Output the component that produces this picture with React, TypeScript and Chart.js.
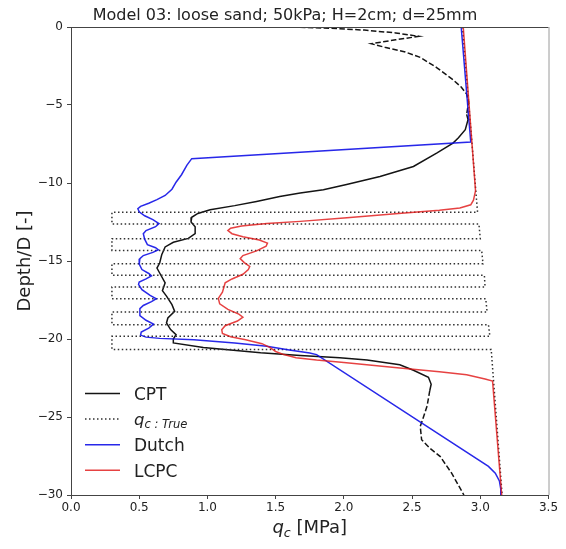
import React, { useEffect, useRef } from "react";
import { Chart, registerables } from "chart.js";

Chart.register(...registerables);

type P = [number, number];

const TITLE = "Model 03: loose sand; 50kPa; H=2cm; d=25mm";
const Y_LABEL = "Depth/D [-]";
const X_MIN = 0;
const X_MAX = 3.5;
const X_STEP = 0.5;
const Y_MIN = -30;
const Y_MAX = 0;
const Y_STEP = 5;
const legendNames = ["CPT", "q_c:True", "Dutch", "LCPC"];

// CPT profile [qc MPa, depth/D]; dashed (top), solid (middle), dashed (bottom)
const cptTop: P[] = [
  [1.62, 0], [1.9, -0.08], [2.15, -0.2], [2.38, -0.38], [2.55, -0.6], [2.38, -0.82],
  [2.2, -1.07], [2.3, -1.3], [2.45, -1.6], [2.56, -1.95], [2.68, -2.6], [2.8, -3.38],
  [2.86, -3.85], [2.9, -4.3], [2.915, -4.8], [2.9, -5.6],
];
const cptMid: P[] = [
  [2.9, -5.6], [2.91, -5.94], [2.89, -6.58], [2.84, -7.1], [2.8, -7.44], [2.68, -8.08],
  [2.51, -8.94], [2.265, -9.58], [2.02, -10.1], [1.85, -10.43], [1.68, -10.64],
  [1.53, -10.86], [1.36, -11.18], [1.2, -11.45], [1.02, -11.71], [0.93, -11.95],
  [0.885, -12.2], [0.88, -12.5], [0.91, -12.8], [0.91, -13.25], [0.86, -13.55],
  [0.75, -13.8], [0.69, -14.1], [0.665, -14.6], [0.65, -15.13], [0.63, -15.45],
  [0.65, -15.77], [0.69, -16.4], [0.67, -16.9], [0.7, -17.25], [0.74, -17.8],
  [0.76, -18.23], [0.71, -18.65], [0.7, -18.97], [0.73, -19.4], [0.77, -19.72],
  [0.75, -20.0], [0.75, -20.25], [0.97, -20.55], [1.39, -20.88], [1.68, -21.05],
  [1.97, -21.2], [2.17, -21.35], [2.41, -21.65], [2.51, -22.0], [2.62, -22.45],
  [2.64, -22.9], [2.63, -23.3],
];
const cptBottom: P[] = [
  [2.63, -23.3], [2.61, -24.3], [2.58, -25.1], [2.56, -25.6], [2.57, -26.46],
  [2.63, -27.0], [2.705, -27.52], [2.79, -28.6], [2.88, -30],
];

// "True" qc profile with the loose layers
const qcTrue: P[] = [
  [2.87, 0], [2.98, -11.88], [0.3, -11.88], [0.3, -12.63], [2.99, -12.63],
  [3.0, -13.57], [0.3, -13.57], [0.3, -14.32], [3.01, -14.32],
  [3.02, -15.17], [0.3, -15.17], [0.3, -15.92], [3.03, -15.92],
  [3.035, -16.67], [0.3, -16.67], [0.3, -17.42], [3.04, -17.42],
  [3.05, -18.27], [0.3, -18.27], [0.3, -19.08], [3.06, -19.08],
  [3.07, -19.83], [0.3, -19.83], [0.3, -20.67], [3.08, -20.67], [3.16, -30],
];

// Dutch method
const dutch: P[] = [
  [2.86, 0], [2.93, -7.37], [0.885, -8.44], [0.85, -8.85], [0.81, -9.47], [0.77, -9.95],
  [0.74, -10.4], [0.69, -10.8], [0.63, -11.07], [0.57, -11.3], [0.51, -11.5],
  [0.49, -11.65], [0.5, -11.85], [0.54, -12.1], [0.6, -12.35], [0.645, -12.6],
  [0.62, -12.8], [0.55, -13.05], [0.53, -13.25], [0.54, -13.6], [0.56, -13.95],
  [0.62, -14.15], [0.64, -14.28], [0.6, -14.45], [0.53, -14.65], [0.505, -14.85],
  [0.5, -15.2], [0.52, -15.55], [0.57, -15.8], [0.59, -15.95], [0.55, -16.15],
  [0.5, -16.35], [0.495, -16.5], [0.52, -16.84], [0.58, -17.2], [0.625, -17.42],
  [0.59, -17.6], [0.53, -17.85], [0.505, -18.05], [0.505, -18.5], [0.55, -18.8],
  [0.605, -19.05], [0.57, -19.3], [0.515, -19.55], [0.51, -19.75], [0.55, -19.88],
  [0.65, -19.96], [0.9, -20.05], [1.2, -20.25], [1.435, -20.47], [1.6, -20.7],
  [1.75, -20.9], [1.8, -21.0], [3.06, -28.17], [3.11, -28.6], [3.14, -29.1],
  [3.15, -29.6], [3.15, -30],
];

// LCPC method
const lcpc: P[] = [
  [2.875, 0], [2.965, -10.5], [2.95, -11.1], [2.93, -11.4], [2.85, -11.6], [2.7, -11.75],
  [2.4, -11.95], [2.0, -12.25], [1.68, -12.46], [1.435, -12.6], [1.25, -12.75],
  [1.17, -12.9], [1.15, -13.05], [1.18, -13.25], [1.26, -13.45], [1.38, -13.65],
  [1.44, -13.85], [1.43, -14.05], [1.36, -14.35], [1.26, -14.65], [1.24, -14.85],
  [1.27, -15.1], [1.31, -15.35], [1.3, -15.55], [1.26, -15.85], [1.18, -16.15],
  [1.13, -16.4], [1.12, -16.7], [1.11, -17.0], [1.08, -17.4], [1.09, -17.75],
  [1.15, -18.1], [1.23, -18.4], [1.26, -18.6], [1.22, -18.85], [1.13, -19.15],
  [1.105, -19.4], [1.11, -19.65], [1.17, -19.85], [1.28, -20.05], [1.4, -20.3],
  [1.46, -20.55], [1.5, -20.8], [1.56, -21.0], [1.65, -21.2], [1.8, -21.35],
  [2.0, -21.5], [2.41, -21.86], [2.7, -22.1], [2.9, -22.29], [3.035, -22.56],
  [3.09, -22.7], [3.157, -30],
];

const FONT = "'DejaVu Sans', sans-serif";
const BLACK = "#141414";
const DOT = "#303030";
const BLUE = "rgba(10,10,230,0.88)";
const RED = "rgba(225,25,25,0.82)";
const AXIS = "#444444";
const TEXT = "#222222";

const toXY = (a: P[]) => a.map(([x, y]) => ({ x, y }));

const drawQc = (
  ctx: CanvasRenderingContext2D,
  x: number,
  y: number,
  size: number,
  sub: string,
  rest: string,
  align: "left" | "center"
) => {
  const subSize = size * 0.7;
  ctx.font = `italic ${size}px ${FONT}`;
  const qw = ctx.measureText("q").width;
  ctx.font = `italic ${subSize}px ${FONT}`;
  const sw = ctx.measureText(sub).width;
  ctx.font = `${size}px ${FONT}`;
  const rw = rest ? ctx.measureText(rest).width : 0;
  const total = qw + sw + rw;
  let cx = align === "center" ? x - total / 2 : x;
  ctx.textAlign = "left";
  ctx.textBaseline = "alphabetic";
  ctx.font = `italic ${size}px ${FONT}`;
  ctx.fillText("q", cx, y);
  cx += qw;
  ctx.font = `italic ${subSize}px ${FONT}`;
  ctx.fillText(sub, cx, y + size * 0.2);
  cx += sw;
  if (rest) {
    ctx.font = `${size}px ${FONT}`;
    ctx.fillText(rest, cx, y);
  }
};

const overlay = {
  id: "overlay",
  afterDraw(chart: any) {
    const { ctx, chartArea: a } = chart;
    ctx.save();
    // top & right spines
    ctx.lineWidth = 1;
    ctx.strokeStyle = AXIS;
    ctx.beginPath();
    ctx.moveTo(a.left, a.top + 0.5);
    ctx.lineTo(a.right, a.top + 0.5);
    ctx.stroke();
    ctx.strokeStyle = "#9a9a9a";
    ctx.beginPath();
    ctx.moveTo(a.right + 0.5, a.top);
    ctx.lineTo(a.right + 0.5, a.bottom);
    ctx.stroke();

    // title
    ctx.fillStyle = TEXT;
    ctx.font = `16px ${FONT}`;
    ctx.textAlign = "center";
    ctx.textBaseline = "alphabetic";
    ctx.fillText(TITLE, 285, 20);

    // y label
    ctx.save();
    ctx.translate(30, (a.top + a.bottom) / 2);
    ctx.rotate(-Math.PI / 2);
    ctx.font = `18px ${FONT}`;
    ctx.textAlign = "center";
    ctx.fillText(Y_LABEL, 0, 0);
    ctx.restore();

    // x label
    drawQc(ctx, (a.left + a.right) / 2, 533, 18, "c", " [MPa]", "center");

    // legend
    const styles = [
      { color: BLACK, dash: [] as number[] },
      { color: DOT, dash: [1.5, 2.5] },
      { color: BLUE, dash: [] as number[] },
      { color: RED, dash: [] as number[] },
    ];
    legendNames.forEach((name, i) => {
      const yy = 393.5 + i * 25.6;
      ctx.strokeStyle = styles[i].color;
      ctx.setLineDash(styles[i].dash);
      ctx.lineWidth = 1.5;
      ctx.beginPath();
      ctx.moveTo(85, yy);
      ctx.lineTo(120, yy);
      ctx.stroke();
      ctx.setLineDash([]);
      ctx.fillStyle = TEXT;
      if (name === "q_c:True") {
        drawQc(ctx, 134, yy + 5.5, 16.5, "c : True", "", "left");
      } else {
        ctx.font = `17px ${FONT}`;
        ctx.textAlign = "left";
        ctx.textBaseline = "alphabetic";
        ctx.fillText(name, 134, yy + 6.5);
      }
    });
    ctx.restore();
  },
};

export default function App() {
  const ref = useRef<HTMLCanvasElement | null>(null);

  useEffect(() => {
    if (!ref.current) return;
    const line = (data: P[], color: string, order: number, dash: number[] = []) => ({
      data: toXY(data),
      showLine: true,
      borderColor: color,
      backgroundColor: color,
      borderWidth: 1.5,
      borderDash: dash,
      pointRadius: 0,
      tension: 0,
      fill: false,
      order,
    });
    const chart = new Chart(ref.current, {
      type: "scatter",
      data: {
        datasets: [
          line(lcpc, RED, 0),
          line(dutch, BLUE, 1),
          line(qcTrue, DOT, 2, [1.5, 2.5]),
          line(cptTop, BLACK, 3, [5.5, 2.4]),
          line(cptMid, BLACK, 3),
          line(cptBottom, BLACK, 3, [5.5, 2.4]),
        ] as any,
      },
      options: {
        animation: false,
        responsive: false,
        devicePixelRatio: 1,
        events: [],
        layout: { padding: { top: 27, right: 17.5, left: 0, bottom: 0 } },
        plugins: {
          legend: { display: false },
          tooltip: { enabled: false },
          title: { display: false },
        },
        scales: {
          x: {
            type: "linear",
            min: X_MIN,
            max: X_MAX,
            ticks: {
              stepSize: X_STEP,
              callback: (v: any) => Number(v).toFixed(1),
              font: { family: FONT, size: 12 },
              color: TEXT,
              padding: 2,
              maxRotation: 0,
              autoSkip: false,
            },
            grid: { drawOnChartArea: false, tickLength: 4, color: AXIS },
            border: { color: AXIS, width: 1 },
            afterFit: (s: any) => {
              s.height = 54;
            },
          },
          y: {
            type: "linear",
            min: Y_MIN,
            max: Y_MAX,
            ticks: {
              stepSize: Y_STEP,
              callback: (v: any) => (Number(v) < 0 ? "\u2212" + Math.abs(Number(v)) : String(v)),
              font: { family: FONT, size: 12 },
              color: TEXT,
              padding: 4,
              autoSkip: false,
            },
            grid: { drawOnChartArea: false, tickLength: 4, color: AXIS },
            border: { color: AXIS, width: 1 },
            afterFit: (s: any) => {
              s.width = 71;
            },
          },
        },
      } as any,
      plugins: [overlay as any],
    });
    return () => chart.destroy();
  }, []);

  return (
    <div style={{ position: "absolute", left: 0, top: 0, width: 566, height: 549, background: "#fff" }}>
      <canvas ref={ref} width={566} height={549} style={{ display: "block" }} />
    </div>
  );
}
